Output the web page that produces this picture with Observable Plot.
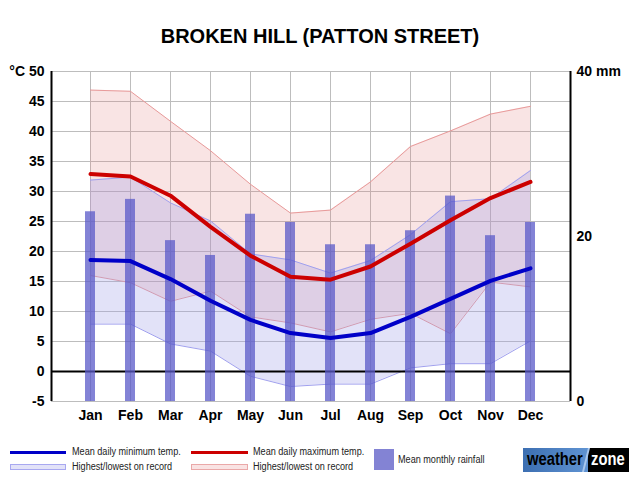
<!DOCTYPE html>
<html>
<head>
<meta charset="utf-8">
<script src="https://cdn.jsdelivr.net/npm/d3@7"></script>
<script src="https://cdn.jsdelivr.net/npm/@observablehq/plot@0.6"></script>
<style>
  body { margin: 0; background: #fff; font-family: "Liberation Sans", Arial, sans-serif; }
  #wrap { position: relative; width: 640px; height: 480px; overflow: hidden; }
  #title { position: absolute; left: 0; width: 640px; top: 25px; text-align: center; font-weight: bold; font-size: 20px; color: #000; }
  .lg { position: absolute; font-size: 10px; color: #222; white-space: nowrap; line-height: 12px; transform: scaleX(0.91); transform-origin: 0 0; }
  .sw { position: absolute; }
  #logo { position: absolute; left: 523px; top: 448px; width: 106px; height: 24px; overflow: hidden; background: linear-gradient(90deg, #3c6fb2 0%, #5f93d2 61%, #000 61%, #000 100%); }
  #logo span { position: absolute; top: 1px; font-weight: bold; font-size: 18px; line-height: 20px; transform: scaleX(0.82); transform-origin: 0 0; }
  #logo i { position: absolute; left: 62px; top: 0; width: 2px; height: 24px; background: #a9c8ee; transform: skewX(-14deg); }
</style>
</head>
<body>
<div id="wrap">
  <div id="chart"></div>
  <div id="title">BROKEN HILL (PATTON STREET)</div>
  <div class="sw" style="left:10px;top:451px;width:56px;height:3px;background:#0000c8"></div>
  <div class="lg" style="left:72px;top:446px">Mean daily minimum temp.</div>
  <div class="sw" style="left:191px;top:451px;width:57px;height:3px;background:#cc0000"></div>
  <div class="lg" style="left:253px;top:446px">Mean daily maximum temp.</div>
  <div class="sw" style="left:10px;top:464px;width:54px;height:4px;background:#e2e2f8;border:1px solid #a8a8f0"></div>
  <div class="lg" style="left:72px;top:461px">Highest/lowest on record</div>
  <div class="sw" style="left:191px;top:464px;width:55px;height:4px;background:#f9e3e3;border:1px solid #eaa8a8"></div>
  <div class="lg" style="left:253px;top:461px">Highest/lowest on record</div>
  <div class="sw" style="left:374px;top:449px;width:20px;height:21px;background:#8383d4"></div>
  <div class="lg" style="left:398px;top:454px">Mean monthly rainfall</div>
  <div id="logo"><i></i><span style="left:4px;color:#000">weather</span><span style="left:68px;color:#fff">zone</span></div>
</div>
<script>
const months = ["Jan","Feb","Mar","Apr","May","Jun","Jul","Aug","Sep","Oct","Nov","Dec"];
const meanMax = [32.9, 32.5, 29.3, 24.1, 19.3, 15.8, 15.3, 17.5, 21.3, 25.2, 28.9, 31.6];
const meanMin = [18.6, 18.4, 15.4, 11.8, 8.6, 6.4, 5.6, 6.4, 9.1, 12.1, 15.1, 17.2];
const recordHighMax = [46.9, 46.7, 41.7, 36.8, 31.2, 26.4, 26.9, 31.6, 37.5, 40.1, 42.9, 44.2];
const recordLowMax = [16.0, 14.8, 11.7, 13.4, 9.1, 8.1, 6.6, 8.7, 9.7, 6.3, 14.9, 14.1];
const recordHighMin = [31.9, 32.4, 28.1, 25.1, 19.6, 18.6, 16.4, 18.5, 22.8, 28.3, 28.8, 33.5];
const recordLowMin = [7.9, 7.9, 4.6, 3.4, -0.8, -2.5, -2.1, -2.1, 0.6, 1.3, 1.3, 5.1];
const rainfall = [23.0, 24.5, 19.5, 17.7, 22.7, 21.7, 19.0, 19.0, 20.7, 24.9, 20.1, 21.7];
const tempTicks = [-5, 0, 5, 10, 15, 20, 25, 30, 35, 40, 45, 50];
const rainTicks = [0, 20, 40];

const T_MIN = -5, T_MAX = 50, R_MAX = 40;
const rainToTemp = mm => T_MIN + mm * (T_MAX - T_MIN) / R_MAX;

const rows = months.map((m, i) => ({
  i, month: m,
  meanMax: meanMax[i], meanMin: meanMin[i],
  hiMax: recordHighMax[i], loMax: recordLowMax[i],
  hiMin: recordHighMin[i], loMin: recordLowMin[i],
  rain: rainfall[i]
}));

const chart = Plot.plot({
  width: 640,
  height: 480,
  marginLeft: 51,
  marginRight: 70,
  marginTop: 71,
  marginBottom: 79,
  style: { fontFamily: "'Liberation Sans', Arial, sans-serif", background: "transparent" },
  x: { type: "linear", domain: [-0.975, 12], axis: null },
  y: { domain: [T_MIN, T_MAX], axis: null },
  marks: [
    Plot.ruleY(tempTicks, { stroke: "#bdbdbd", strokeWidth: 1 }),
    Plot.ruleX(rows, { x: "i", stroke: "#bdbdbd", strokeWidth: 1 }),
    Plot.areaY(rows, { x: "i", y1: "loMax", y2: "hiMax", fill: "rgb(225,120,120)", fillOpacity: 0.2 }),
    Plot.line(rows, { x: "i", y: "hiMax", stroke: "#e89a9a", strokeWidth: 1 }),
    Plot.line(rows, { x: "i", y: "loMax", stroke: "#e89a9a", strokeWidth: 1 }),
    Plot.areaY(rows, { x: "i", y1: "loMin", y2: "hiMin", fill: "rgb(158,158,232)", fillOpacity: 0.3 }),
    Plot.line(rows, { x: "i", y: "hiMin", stroke: "#a0a0ee", strokeWidth: 1 }),
    Plot.line(rows, { x: "i", y: "loMin", stroke: "#a0a0ee", strokeWidth: 1 }),
    Plot.ruleY([0], { stroke: "#000", strokeWidth: 2 }),
    Plot.rect(rows, { x1: d => d.i - 0.125, x2: d => d.i + 0.125, y1: T_MIN, y2: d => rainToTemp(d.rain), fill: "#5a5ac8", fillOpacity: 0.75 }),
    Plot.line(rows, { x: "i", y: "meanMax", stroke: "#cc0000", strokeWidth: 4 }),
    Plot.line(rows, { x: "i", y: "meanMin", stroke: "#0000c8", strokeWidth: 4 }),
    Plot.ruleX([-0.975], { y1: T_MIN, y2: T_MAX, stroke: "#000", strokeWidth: 2 }),
    Plot.ruleX([12], { y1: T_MIN, y2: T_MAX, stroke: "#000", strokeWidth: 2 }),
    Plot.text(tempTicks, { y: d => d, text: d => d === 50 ? "°C 50" : String(d), frameAnchor: "left", textAnchor: "end", dx: -7, fontSize: 14, fontWeight: "bold", fill: "#000" }),
    Plot.text(rainTicks, { y: d => rainToTemp(d), text: d => d === 40 ? "40 mm" : String(d), frameAnchor: "right", textAnchor: "start", dx: 6, fontSize: 14, fontWeight: "bold", fill: "#000" }),
    Plot.text(rows, { x: "i", y: T_MIN, text: "month", dy: 14, fontSize: 14, fontWeight: "bold", fill: "#000" })
  ]
});
document.getElementById("chart").appendChild(chart);
</script>
</body>
</html>
